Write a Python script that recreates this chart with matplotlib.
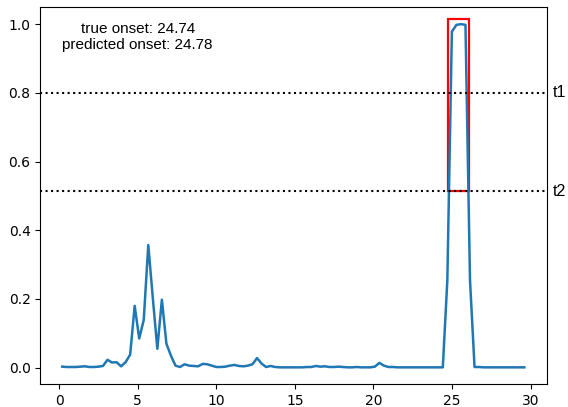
import numpy as np
import matplotlib.pyplot as plt
from matplotlib.patches import Rectangle

# activation curve (one value per frame)
probs = [0.003, 0.002, 0.002, 0.002, 0.003, 0.004, 0.002, 0.002, 0.003, 0.005,
         0.023, 0.015, 0.016, 0.004, 0.016, 0.038, 0.180, 0.085, 0.139, 0.357,
         0.203, 0.055, 0.198, 0.070, 0.035, 0.006, 0.002, 0.010, 0.006, 0.005,
         0.004, 0.011, 0.010, 0.006, 0.002, 0.002, 0.003, 0.006, 0.008, 0.005,
         0.004, 0.006, 0.010, 0.028, 0.012, 0.002, 0.005, 0.002, 0.001, 0.001,
         0.001, 0.001, 0.001, 0.001, 0.002, 0.002, 0.005, 0.003, 0.004, 0.002,
         0.002, 0.003, 0.002, 0.001, 0.001, 0.002, 0.001, 0.001, 0.001, 0.003,
         0.014, 0.006, 0.002, 0.002, 0.001, 0.001, 0.001, 0.001, 0.001, 0.001,
         0.001, 0.001, 0.001, 0.001, 0.001, 0.255, 0.978, 0.998, 1.000, 0.998,
         0.255, 0.002, 0.002, 0.001, 0.001, 0.001, 0.001, 0.001, 0.001, 0.001,
         0.001, 0.001, 0.001]
t_start = 0.2
t_end = 29.6
times = np.linspace(t_start, t_end, len(probs))

t1 = 0.8
t2 = 0.513
true_onset = 24.74
pred_onset = 24.78
box_end = 26.08
box_top = 1.015

fig = plt.figure(figsize=(5.68, 4.07), dpi=100)
ax = fig.add_axes([0.071, 0.0565, 0.8915, 0.9255])

ax.plot(times, probs, color='#1f77b4', lw=1.8)
ax.axhline(t1, color='black', ls=':', lw=1.5)
ax.axhline(t2, color='black', ls=':', lw=1.5)
ax.text(31.4, t1, 't1', va='center', ha='left', fontsize=11.5, family='Liberation Sans')
ax.text(31.4, t2, 't2', va='center', ha='left', fontsize=11.5, family='Liberation Sans')

ax.add_patch(Rectangle((true_onset, t2), box_end - true_onset, box_top - t2,
                       fill=False, edgecolor='red', lw=1.6))

ax.text(5.0, 0.962, 'true onset: %.2f\npredicted onset: %.2f' % (true_onset, pred_onset),
        ha='center', va='center', fontsize=11, family='Liberation Sans', linespacing=1.2)

ax.set_xlim(-1.19, 31.02)
ax.set_ylim(-0.0475, 1.049)
ax.set_xticks([0, 5, 10, 15, 20, 25, 30])
ax.set_yticks([0.0, 0.2, 0.4, 0.6, 0.8, 1.0])

fig.savefig('out.png', dpi=100)
